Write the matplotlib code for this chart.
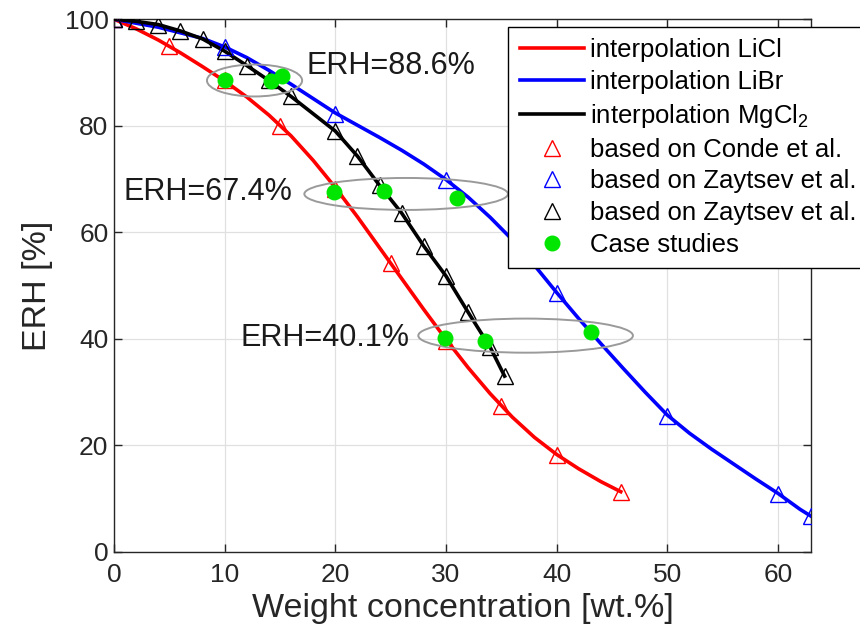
import numpy as np
import matplotlib
matplotlib.use("Agg")
import matplotlib.pyplot as plt
from matplotlib.patches import Ellipse

plt.rcParams['font.family'] = ['Liberation Sans', 'DejaVu Sans']
plt.rcParams['mathtext.fontset'] = 'custom'
plt.rcParams['mathtext.rm'] = 'Liberation Sans'
plt.rcParams['mathtext.it'] = 'Liberation Sans:italic'

# triangles (data from literature)
licl_x = [0, 5, 10, 15, 20, 25, 30, 35, 40, 45.8]
licl_y = [100, 95, 88.6, 80, 68.2, 54.2, 39.6, 27.3, 18.2, 11.3]
libr_x = [0, 10, 20, 30, 40, 50, 60, 63]
libr_y = [100, 94.8, 82.3, 69.8, 48.6, 25.5, 10.9, 6.7]
mgcl_x = [0, 2, 4, 6, 8, 10, 12, 14, 16, 20, 22, 24, 26, 28, 30, 32, 34, 35.3]
mgcl_y = [100, 99.6, 99.0, 97.8, 96.3, 94.0, 91.3, 88.5, 85.5, 79.0, 74.3,
          68.8, 63.6, 57.4, 51.8, 45.0, 38.4, 33.0]

# interpolation curves
licl_cx = [0, 2, 4, 6, 8, 10, 12, 14, 16, 18, 20, 22, 24, 26, 28, 30, 32,
           34, 36, 38, 40, 42, 44, 45.8]
licl_cy = [100, 98.2, 96.1, 93.7, 91.1, 88.4, 85.4, 82.0, 78.1, 73.5, 68.4,
           62.9, 57.1, 51.3, 45.5, 39.9, 34.6, 29.7, 25.3, 21.5, 18.3, 15.6,
           13.2, 11.3]
libr_cx = [0, 4, 8, 10, 12, 14, 16, 18, 20, 22, 24, 26, 28, 30, 32, 34, 36,
           38, 40, 42, 44, 46, 48, 50, 52, 54, 56, 58, 60, 62, 63]
libr_cy = [100, 98.5, 96.4, 94.8, 92.8, 90.4, 87.8, 85.1, 82.4, 80.1, 77.8,
           75.4, 72.8, 69.9, 66.6, 62.8, 58.6, 53.8, 48.7, 43.8, 39.1, 34.5,
           30.0, 25.7, 22.3, 19.3, 16.5, 13.7, 11.0, 8.0, 6.7]
mgcl_cx = mgcl_x
mgcl_cy = mgcl_y

# case studies
case_x = [10, 14.2, 15.2, 19.9, 24.4, 31.0, 29.9, 33.5, 43.1]
case_y = [88.6, 88.4, 89.3, 67.5, 67.7, 66.5, 40.2, 39.6, 41.2]

erh_labels = ['ERH=88.6%', 'ERH=67.4%', 'ERH=40.1%']

fig = plt.figure(figsize=(8.6, 6.41), dpi=100)
ax = fig.add_axes([0.1326, 0.139, 0.8105, 0.831])

ax.plot(licl_cx, licl_cy, color='#ff0000', lw=2.6, label='interpolation LiCl', zorder=3)
ax.plot(libr_cx, libr_cy, color='#0000ff', lw=2.6, label='interpolation LiBr', zorder=3)
ax.plot(mgcl_cx, mgcl_cy, color='black', lw=2.6, label='interpolation MgCl$_2$', zorder=3)

ax.plot(licl_x, licl_y, '^', mfc='none', mec='#ff0000', ms=11, mew=1.0,
        label='based on Conde et al.', zorder=4)
ax.plot(libr_x, libr_y, '^', mfc='none', mec='#0000ff', ms=11, mew=1.0,
        label='based on Zaytsev et al.', zorder=4)
ax.plot(mgcl_x, mgcl_y, '^', mfc='none', mec='black', ms=11, mew=1.0,
        label='based on Zaytsev et al.', zorder=4)

# ellipses round the case studies
for c, w, h in [((12.7, 88.5), 8.6, 6.0), ((26.4, 67.2), 18.4, 6.0), ((37.2, 40.6), 19.4, 6.4)]:
    ax.add_patch(Ellipse(c, w, h, fill=False, ec='#9a9a9a', lw=1.4, zorder=5))

ax.plot(case_x, case_y, 'o', color='#00e600', ms=11.5, mec='none',
        label='Case studies', zorder=6)

ax.text(17.4, 91.2, erh_labels[0], fontsize=22, va='center', ha='left', color='#1a1a1a')
ax.text(0.9, 67.5, erh_labels[1], fontsize=22, va='center', ha='left', color='#1a1a1a')
ax.text(11.4, 40.2, erh_labels[2], fontsize=22, va='center', ha='left', color='#1a1a1a')

ax.set_xlim(0, 63)
ax.set_ylim(0, 100)
ax.set_xticks(np.arange(0, 61, 10))
ax.set_yticks(np.arange(0, 101, 20))
ax.grid(True, color='#e0e0e0', lw=0.9)
ax.set_axisbelow(True)
ax.tick_params(direction='in', length=6, width=1, top=True, right=True,
               labelsize=19, colors='#262626')
ax.tick_params(axis='x', pad=8)
ax.tick_params(axis='y', pad=4)
for s in ax.spines.values():
    s.set_color('#262626')
    s.set_linewidth(1.0)

ax.set_xlabel('Weight concentration [wt.%]', fontsize=24.5, color='#262626', labelpad=4)
ax.set_ylabel('ERH [%]', fontsize=24.5, color='#262626', labelpad=8)

leg = ax.legend(loc='upper left', bbox_to_anchor=(0.591, 0.958),
                bbox_transform=fig.transFigure, fontsize=18.5, frameon=True,
                fancybox=False, framealpha=1, edgecolor='black',
                handlelength=2.5, handletextpad=0.25, labelspacing=0.3,
                borderpad=0.45, borderaxespad=0)
leg.get_frame().set_linewidth(1.0)
leg.set_zorder(10)

fig.savefig('out.png', dpi=100)
